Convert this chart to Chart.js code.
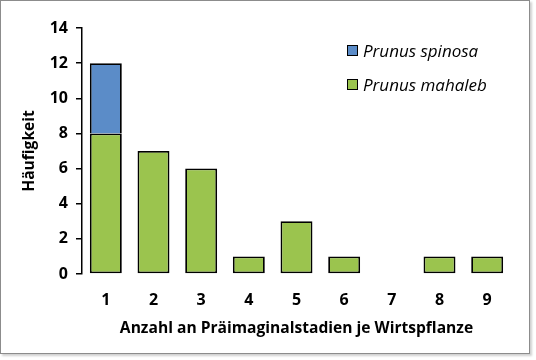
<!DOCTYPE html>
<html>
<head>
<meta charset="utf-8">
<script src="https://cdn.jsdelivr.net/npm/chart.js@4"></script>
<style>
    body { margin: 0; background: #fff; }
    #frame {
        position: absolute; left: 0; top: 0;
        width: 528px; height: 352px;
        border: 1.5px solid #8c8c8c;
        box-shadow: 2px 2px 2px #d0d0d0;
    }
    #wrap { position: absolute; left: 0; top: 0; width: 536px; height: 360px; }
    .legend { position: absolute; left: 347px; height: 12px; font-family: 'Open Sans', sans-serif; font-style: italic; font-size: 17px; color: #000; }
    .legend span.box {
        position: absolute; left: 0; top: 0; width: 9px; height: 9px;
        border: 1.5px solid #000; box-sizing: content-box;
    }
    .legend span.txt { position: absolute; left: 16px; top: -6px; white-space: nowrap; line-height: 23px; }
</style>
</head>
<body>
<div id="frame"></div>
<div id="wrap"><canvas id="chart" width="536" height="360"></canvas></div>
<div class="legend" style="top:45px"><span class="box" style="background:#5b8cc8"></span><span class="txt">Prunus spinosa</span></div>
<div class="legend" style="top:79px"><span class="box" style="background:#9bc44e"></span><span class="txt">Prunus mahaleb</span></div>
<script>
    // Data
    const categories = ['1', '2', '3', '4', '5', '6', '7', '8', '9'];
    const mahaleb = [8, 7, 6, 1, 3, 1, 0, 1, 1];
    const spinosa = [4, 0, 0, 0, 0, 0, 0, 0, 0];
    const yTicks = [0, 2, 4, 6, 8, 10, 12, 14];

    const font = 'Open Sans';

    new Chart(document.getElementById('chart').getContext('2d'), {
        type: 'bar',
        data: {
            labels: categories,
            datasets: [
                {
                    label: 'Prunus mahaleb',
                    data: mahaleb,
                    backgroundColor: '#9bc44e',
                    borderColor: '#000',
                    borderWidth: 1.8,
                    borderSkipped: false,
                    barPercentage: 0.67,
                    categoryPercentage: 1
                },
                {
                    label: 'Prunus spinosa',
                    data: spinosa,
                    backgroundColor: '#5b8cc8',
                    borderColor: '#000',
                    borderWidth: 1.8,
                    borderSkipped: 'bottom',
                    barPercentage: 0.67,
                    categoryPercentage: 1
                }
            ]
        },
        options: {
            responsive: false,
            animation: false,
            layout: { padding: { left: 0, right: 25, top: 28, bottom: 0 } },
            plugins: {
                legend: { display: false },
                tooltip: { enabled: false }
            },
            scales: {
                x: {
                    stacked: true,
                    grid: { display: false },
                    border: { display: false },
                    ticks: { color: '#000', font: { family: font, size: 16, weight: 'bold' }, padding: 9 },
                    title: {
                        display: true,
                        text: 'Anzahl an Präimaginalstadien je Wirtspflanze',
                        color: '#000',
                        font: { family: font, size: 15.6, weight: 'bold' },
                        padding: { top: 4, bottom: 22 }
                    },
                    afterFit: function (axis) { axis.height = 86; }
                },
                y: {
                    stacked: true,
                    min: 0,
                    max: 14,
                    afterBuildTicks: function (axis) { axis.ticks = yTicks.map(v => ({ value: v })); },
                    grid: { drawOnChartArea: false, color: '#000', tickLength: 6, lineWidth: 1.5 },
                    border: { display: true, color: '#000', width: 1.5 },
                    ticks: { color: '#000', font: { family: font, size: 16, weight: 'bold' }, padding: 8 },
                    title: {
                        display: true,
                        text: 'Häufigkeit',
                        color: '#000',
                        font: { family: font, size: 15.6, weight: 'bold' },
                        padding: { top: 20, bottom: 0 }
                    },
                    afterFit: function (axis) { axis.width = 82; }
                }
            }
        }
    });
</script>
</body>
</html>
